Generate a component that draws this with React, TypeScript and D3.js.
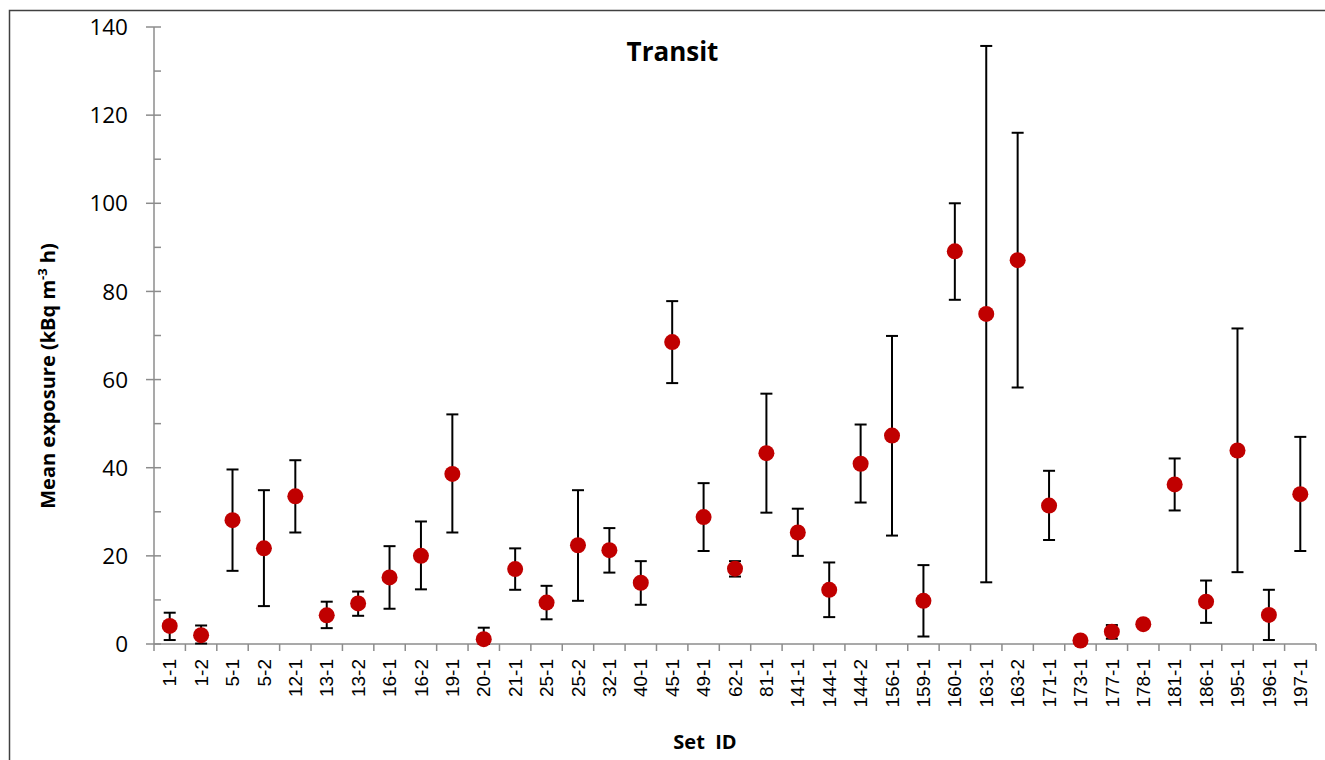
import React from 'react';
import * as d3 from 'd3';

// Set IDs along the x axis
const setIds = [
  '1-1', '1-2', '5-1', '5-2', '12-1', '13-1', '13-2', '16-1', '16-2', '19-1',
  '20-1', '21-1', '25-1', '25-2', '32-1', '40-1', '45-1', '49-1', '62-1', '81-1',
  '141-1', '144-1', '144-2', '156-1', '159-1', '160-1', '163-1', '163-2', '171-1', '173-1',
  '177-1', '178-1', '181-1', '186-1', '195-1', '196-1', '197-1',
];

// mean exposure (kBq m-3 h)
const meanValues = [
  4.1, 2.0, 28.1, 21.7, 33.5, 6.5, 9.2, 15.1, 20.0, 38.6,
  1.1, 17.0, 9.4, 22.4, 21.3, 13.9, 68.5, 28.8, 17.1, 43.3,
  25.3, 12.3, 40.9, 47.3, 9.8, 89.1, 74.9, 87.1, 31.4, 0.8,
  2.8, 4.5, 36.2, 9.6, 43.9, 6.6, 34.0,
];

// upper end of error bar
const upperValues = [
  7.1, 4.2, 39.6, 34.9, 41.7, 9.6, 11.9, 22.2, 27.8, 52.1,
  3.7, 21.7, 13.2, 34.9, 26.3, 18.8, 77.8, 36.5, 18.8, 56.8,
  30.7, 18.5, 49.8, 69.9, 17.9, 100.0, 135.7, 116.0, 39.3, 0.9,
  4.3, 4.7, 42.1, 14.4, 71.6, 12.3, 47.0,
];

// lower end of error bar
const lowerValues = [
  0.9, 0.1, 16.6, 8.6, 25.3, 3.6, 6.4, 8.0, 12.4, 25.3,
  0.0, 12.3, 5.6, 9.8, 16.2, 8.9, 59.2, 21.1, 15.3, 29.8,
  20.0, 6.1, 32.1, 24.6, 1.7, 78.1, 14.0, 58.2, 23.6, 0.7,
  1.2, 4.3, 30.3, 4.8, 16.3, 0.9, 21.1,
];

const yTicks = [0, 20, 40, 60, 80, 100, 120, 140];
const yMinorTicks = [10, 30, 50, 70, 90, 110, 130];

const W = 1325;
const H = 760;
const left = 154;
const right = 1316;
const top = 27;
const bottom = 644;

const axisColor = '#8c8c8c';
const dotColor = '#c00000';

export default function App() {
  const x = d3.scaleBand<string>().domain(setIds).range([left, right]).padding(0);
  const y = d3.scaleLinear().domain([0, 140]).range([bottom, top]);
  const cx = (id: string) => (x(id) ?? 0) + x.bandwidth() / 2;
  const boundaries = setIds.map((id) => x(id) ?? 0).concat([right]);

  return (
    <svg
      width={W}
      height={H}
      style={{ position: 'absolute', left: 0, top: 0, background: '#fff' }}
    >
      {/* outer frame, clipped on the right and bottom */}
      <path d={`M9.5,${H} V10.5 H${W}`} fill="none" stroke="#404040" strokeWidth={1.5} />

      {/* y axis */}
      <line x1={left} x2={left} y1={top} y2={bottom} stroke={axisColor} strokeWidth={1.5} />
      {yTicks.map((t) => (
        <g key={t}>
          <line x1={left - 8} x2={left + 7} y1={y(t)} y2={y(t)} stroke={axisColor} strokeWidth={1.5} />
          <text
            x={128}
            y={y(t)}
            dy="0.36em"
            textAnchor="end"
            fontFamily="'Open Sans', sans-serif"
            fontSize={22.5}
            fill="#000"
          >
            {t}
          </text>
        </g>
      ))}
      {yMinorTicks.map((t) => (
        <line key={t} x1={left} x2={left + 7} y1={y(t)} y2={y(t)} stroke={axisColor} strokeWidth={1.5} />
      ))}

      {/* x axis */}
      <line x1={left} x2={right} y1={bottom} y2={bottom} stroke={axisColor} strokeWidth={1.5} />
      {boundaries.map((b, i) => (
        <line key={i} x1={b} x2={b} y1={bottom} y2={bottom + 7} stroke={axisColor} strokeWidth={1.5} />
      ))}
      {setIds.map((id) => (
        <text
          key={id}
          transform={`translate(${cx(id)},${659}) rotate(-90)`}
          dy="0.35em"
          textAnchor="end"
          fontFamily="'Liberation Sans', Arial, sans-serif"
          fontSize={19}
          fill="#000"
        >
          {id}
        </text>
      ))}

      {/* error bars */}
      {setIds.map((id, i) => {
        const xc = cx(id);
        const y1 = y(upperValues[i]);
        const y0 = y(lowerValues[i]);
        return (
          <g key={id} stroke="#000" strokeWidth={2}>
            <line x1={xc} x2={xc} y1={y1} y2={y0} />
            <line x1={xc - 6} x2={xc + 6} y1={y1} y2={y1} />
            <line x1={xc - 6} x2={xc + 6} y1={y0} y2={y0} />
          </g>
        );
      })}

      {/* mean points */}
      {setIds.map((id, i) => (
        <circle key={id} cx={cx(id)} cy={y(meanValues[i])} r={8} fill={dotColor} />
      ))}

      {/* titles */}
      <text
        x={672.5}
        y={61}
        textAnchor="middle"
        fontFamily="'Open Sans', sans-serif"
        fontWeight="bold"
        fontSize={26}
        fill="#000"
      >
        Transit
      </text>
      <text
        transform={`translate(55,${376}) rotate(-90)`}
        textAnchor="middle"
        fontFamily="'Open Sans', sans-serif"
        fontWeight="bold"
        fontSize={20}
        fill="#000"
      >
        Mean exposure (kBq m
        <tspan dy={-8} fontSize={13}>-3</tspan>
        <tspan dy={8}> h)</tspan>
      </text>
      <text
        x={705}
        y={749}
        textAnchor="middle"
        fontFamily="'Open Sans', sans-serif"
        fontWeight="bold"
        fontSize={20}
        fill="#000"
        style={{ whiteSpace: 'pre' }}
      >
        {'Set  ID'}
      </text>
    </svg>
  );
}
